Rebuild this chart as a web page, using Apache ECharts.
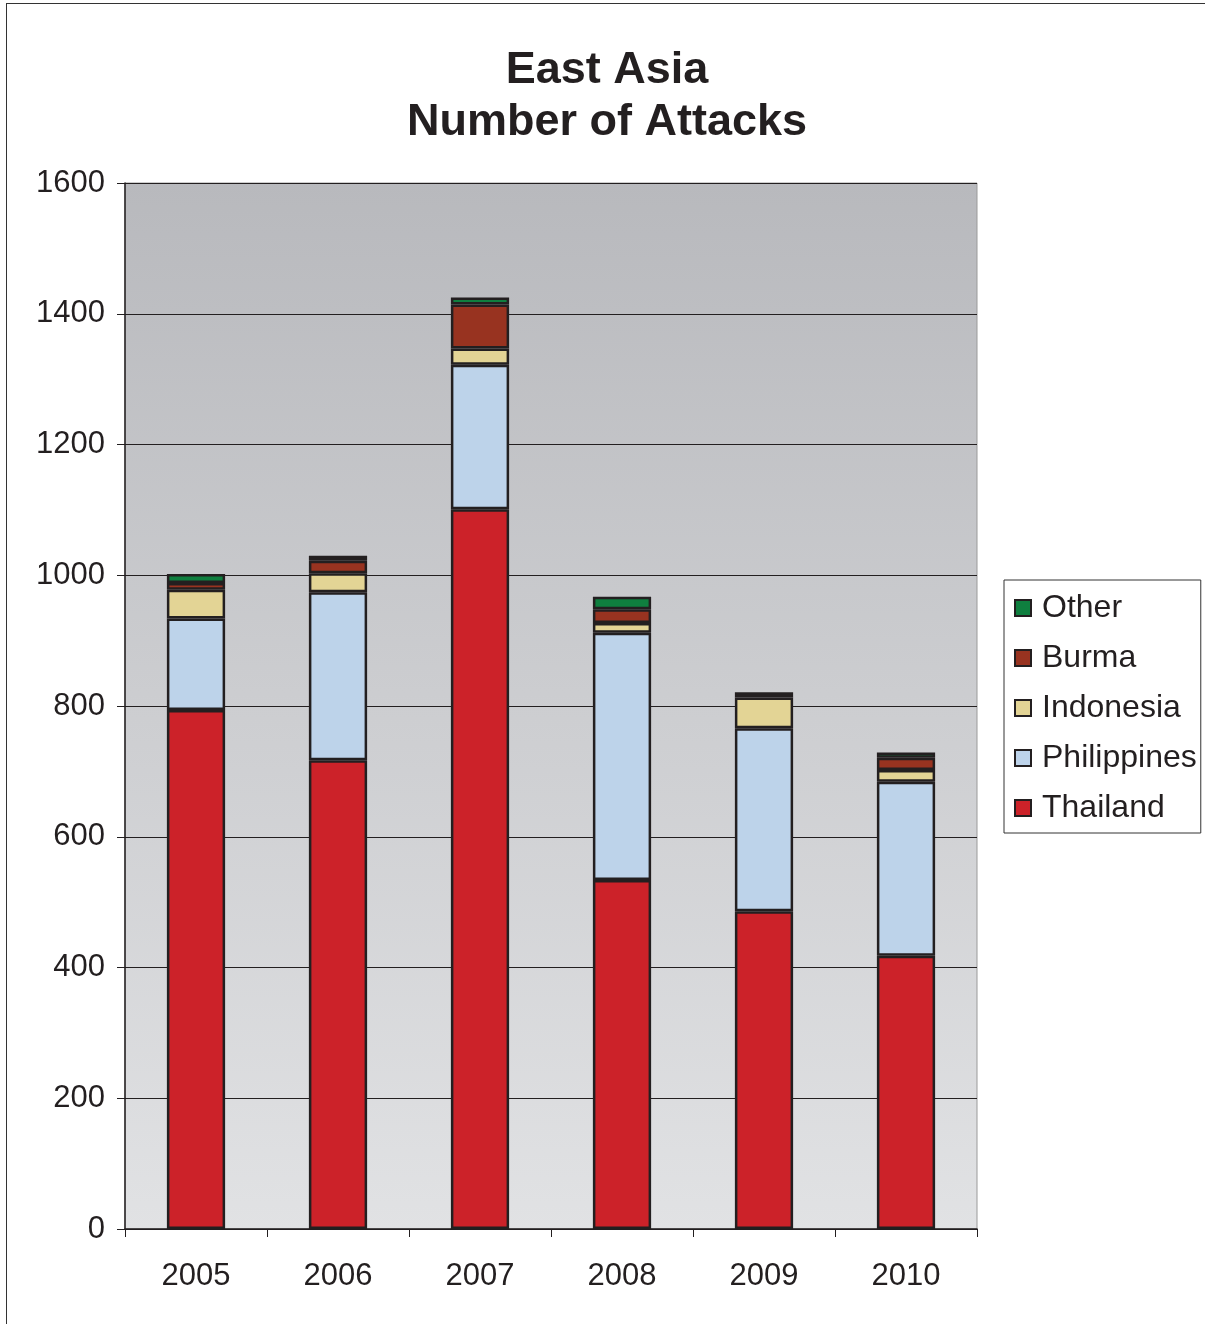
<!DOCTYPE html>
<html>
<head>
<meta charset="utf-8">
<script src="https://cdn.jsdelivr.net/npm/echarts@6/dist/echarts.min.js"></script>
<style>
  html, body { margin: 0; padding: 0; background: #fff; }
  #frame { position: absolute; left: 6px; top: 3px; width: 1199px; height: 1321px;
           border-top: 1.5px solid #333; border-left: 1.5px solid #333; box-sizing: border-box; }
  #chart { position: absolute; left: 0; top: 0; width: 1205px; height: 1324px; }
</style>
</head>
<body>
<div id="frame"></div>
<div id="chart"></div>
<script>
// Attacks per year in East Asia, stacked by country
const years = ['2005', '2006', '2007', '2008', '2009', '2010'];
const thailand    = [794, 717, 1101, 534, 486, 418];
const philippines = [140, 257, 221, 378, 280, 266];
const indonesia   = [44, 29, 25, 15, 47, 18];
const burma       = [10, 19, 67, 21, 4, 19];
const other       = [14, 8, 11, 19, 4, 8];
const legendOrder = ['Other', 'Burma', 'Indonesia', 'Philippines', 'Thailand'];

const font = 'Liberation Sans, Arial, sans-serif';

function stackSeries(name, data, color) {
  return {
    name: name,
    type: 'bar',
    stack: 'total',
    data: data,
    barWidth: '41%',
    itemStyle: { color: color, borderColor: '#231f20', borderWidth: 2.5 }
  };
}

const chart = echarts.init(document.getElementById('chart'));
chart.setOption({
  animation: false,
  backgroundColor: 'transparent',
  title: {
    text: 'East Asia\nNumber of Attacks',
    left: 607, top: 45, textAlign: 'center', padding: 0,
    textStyle: { fontFamily: font, fontSize: 45, fontWeight: 'bold', color: '#231f20', lineHeight: 52 }
  },
  legend: {
    orient: 'vertical',
    left: 1004, top: 580,
    data: legendOrder,
    backgroundColor: '#fff',
    borderColor: '#333', borderWidth: 1,
    padding: [12, 4, 9, 10],
    itemWidth: 16, itemHeight: 16, itemGap: 18,
    icon: 'rect',
    textStyle: { fontFamily: font, fontSize: 32, color: '#231f20', padding: [0, 0, 0, 6] }
  },
  grid: {
    left: 125, right: 228, top: 183, bottom: 95,
    show: true,
    borderColor: '#9a9a9a', borderWidth: 1,
    backgroundColor: {
      type: 'linear', x: 0, y: 0, x2: 0, y2: 1,
      colorStops: [ { offset: 0, color: '#b8b9bd' }, { offset: 1, color: '#e1e2e4' } ]
    }
  },
  xAxis: {
    type: 'category',
    data: years,
    axisLine: { lineStyle: { color: '#231f20', width: 1.5 } },
    axisTick: { show: true, length: 8, alignWithLabel: false, lineStyle: { color: '#231f20' } },
    axisLabel: { fontFamily: font, fontSize: 31, color: '#231f20', margin: 32 }
  },
  yAxis: {
    type: 'value',
    min: 0, max: 1600, interval: 200,
    axisLine: { show: true, lineStyle: { color: '#231f20', width: 1.5 } },
    axisTick: { show: true, length: 8, lineStyle: { color: '#231f20' } },
    axisLabel: { fontFamily: font, fontSize: 31, color: '#231f20', margin: 20,
                 formatter: function (v) { return String(v); } },
    splitLine: { lineStyle: { color: '#231f20', width: 1 } }
  },
  series: [
    stackSeries('Thailand', thailand, '#cc2229'),
    stackSeries('Philippines', philippines, '#bdd3ea'),
    stackSeries('Indonesia', indonesia, '#e3d495'),
    stackSeries('Burma', burma, '#983320'),
    stackSeries('Other', other, '#0f7f3f')
  ]
});
</script>
</body>
</html>
